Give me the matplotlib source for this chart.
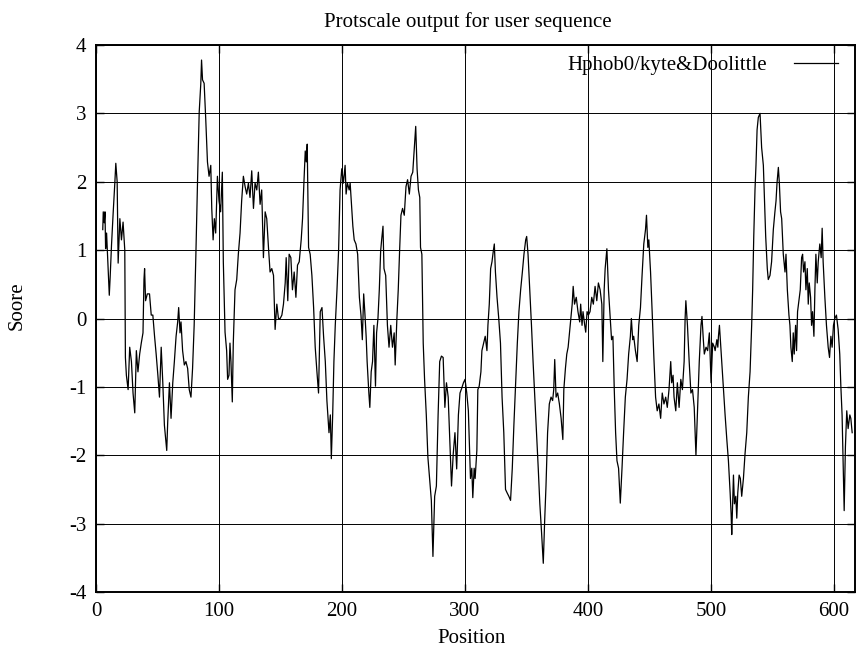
import matplotlib
matplotlib.use("Agg")
import matplotlib.pyplot as plt

plt.rcParams['font.family'] = ['Liberation Serif', 'DejaVu Serif']
plt.rcParams['axes.unicode_minus'] = False

# hydrophobicity profile (position, score)
position = [
    5.5, 5.9, 6.7, 7.3, 7.8, 8.6, 10.0, 10.8, 11.5, 12.6, 14.0, 15.3, 16.1, 17.2, 18.0, 19.4,
    20.7, 22.0, 23.4, 23.9, 24.7, 26.1, 27.4, 28.8, 30.1, 31.5, 32.8, 34.1, 35.5, 36.8, 38.2,
    39.0, 39.5, 40.3, 41.7, 43.5, 44.9, 46.2, 47.6, 48.9, 50.3, 51.6, 53.0, 54.3, 55.6, 57.5,
    58.3, 59.7, 61.0, 62.4, 63.7, 65.1, 66.4, 67.2, 68.3, 69.1, 70.4, 71.8, 73.1, 74.5, 75.8,
    77.2, 78.5, 79.8, 81.2, 82.5, 83.9, 85.2, 85.8, 86.6, 87.9, 89.2, 90.6, 91.9, 93.3, 94.1,
    95.2, 96.2, 97.3, 98.7, 100.0, 101.3, 102.7, 103.5, 104.9, 106.2, 107.0, 108.1, 108.9,
    109.7, 110.8, 111.6, 113.0, 114.4, 115.7, 117.1, 118.4, 119.8, 121.2, 122.5, 123.9, 125.2,
    126.6, 128.0, 129.3, 130.7, 132.0, 133.4, 134.7, 136.1, 137.5, 138.8, 140.2, 141.5, 142.9,
    144.3, 145.6, 147.0, 148.3, 149.7, 151.1, 152.4, 153.8, 154.6, 155.9, 157.0, 158.4, 159.7,
    161.1, 162.5, 163.8, 165.2, 166.8, 167.9, 169.0, 170.1, 170.9, 171.7, 172.8, 174.1, 175.5,
    176.9, 178.2, 179.6, 180.9, 182.3, 183.7, 185.0, 186.4, 187.7, 188.5, 189.4, 190.5, 191.3,
    192.4, 193.4, 194.5, 195.9, 197.2,
    198.4, 199.8, 201.1, 202.5, 203.3, 204.4, 205.8, 206.6, 207.5, 208.8, 209.9, 211.3, 212.7,
    214.1, 215.4, 216.5, 217.6, 218.5, 219.6, 220.4, 221.8, 222.6, 223.7, 224.8, 225.9, 227.2,
    228.1, 229.2, 230.3, 231.4, 232.2, 233.3, 234.1, 235.5, 236.9, 238.2, 239.6, 241.0, 242.4,
    243.2, 244.6, 245.7, 246.8, 247.9, 249.2, 250.6, 252.0, 253.3, 254.7, 256.1, 257.5, 258.8,
    259.9, 261.0, 262.1, 263.2, 263.8, 264.9, 266.0, 267.1, 268.5, 269.8, 271.2, 272.6, 273.9,
    275.3, 276.7, 278.1, 279.4, 280.8, 282.2, 283.6, 284.9, 286.3, 287.7, 289.0, 290.4, 291.8,
    293.2, 294.6, 295.9, 297.3, 298.7,
    300.0, 301.4, 302.7, 303.6, 304.4, 305.5, 306.3, 307.4, 308.2, 309.6, 310.4, 311.5, 312.9,
    313.7, 315.1, 316.4, 317.8, 318.6, 319.7, 320.8, 321.9, 323.0, 323.8, 324.7, 326.0, 327.4,
    328.8, 330.1, 331.5, 332.9, 334.2, 335.6, 337.0, 338.4, 339.7, 341.1, 342.5, 343.8, 345.2,
    346.6, 347.9, 349.3, 350.1, 351.2, 352.6, 354.0, 355.3, 356.7, 358.1, 359.5, 360.8, 362.2,
    363.6, 364.7, 365.8, 367.1, 368.5, 369.9, 371.2, 372.1, 372.9, 374.0, 375.3, 376.7, 378.1,
    379.5, 380.3, 381.6, 382.7, 383.8, 384.9, 386.3, 387.1, 387.9, 389.0, 390.4, 391.8, 393.2,
    394.0, 395.1, 395.9, 397.3, 398.1, 399.2, 400.3,
    401.6, 403.0, 404.3, 405.7, 407.1, 408.4, 409.8, 411.2, 412.0, 413.1, 413.9, 415.3, 416.6,
    418.0, 419.1, 420.2, 421.3, 422.4, 423.5, 424.8, 426.2, 427.6, 428.9, 430.3, 431.7, 433.0,
    434.4, 435.2, 436.3, 437.1, 438.5, 439.9, 441.2, 442.6, 443.9, 445.3, 446.7, 447.5, 448.6,
    449.4, 450.8, 452.1, 453.5, 454.9, 456.2, 457.6, 459.0, 460.3, 461.7, 463.1, 464.4, 465.8,
    467.2, 468.0, 469.1, 469.9, 471.3, 472.6, 474.0, 475.4, 476.7, 478.1, 478.9, 479.5, 480.8,
    482.2, 483.6, 484.9, 486.3, 487.7, 489.0, 490.4, 491.8, 492.6, 493.7, 494.5, 495.9, 497.2,
    498.6, 500.0, 501.3, 502.7,
    503.3, 504.7, 505.5, 506.0, 506.8, 507.9, 508.7, 510.1, 511.4, 512.8, 514.1, 515.5, 516.3,
    516.8, 518.2, 519.0, 520.1, 520.9, 521.7, 522.8, 523.8, 524.9, 526.3, 527.6, 529.0, 530.3,
    531.7, 533.0, 533.8, 534.7, 535.7, 536.5, 537.4, 538.4, 539.8, 541.1, 542.5, 543.3, 544.4,
    545.7, 546.5, 547.9, 549.2, 550.6, 551.9, 552.8, 553.6, 554.7, 555.5, 556.5, 557.4, 558.7,
    560.1, 560.9, 562.0, 563.3, 564.1, 564.9, 566.0, 566.8, 567.6, 568.7, 569.5, 570.3, 571.4,
    572.5, 573.6, 574.4, 575.2, 576.3, 577.1, 578.2, 579.0, 579.8, 580.9, 581.7, 582.5, 583.6,
    584.4, 585.2, 586.3, 587.1, 588.4, 589.5, 590.3, 591.1, 592.5, 593.8, 595.2, 596.3, 597.4,
    598.4, 599.5, 600.6, 601.9, 603.3, 604.6, 605.5, 606.5, 607.4, 608.2, 609.2, 610.3, 611.4,
    612.8, 613.6, 614.7,
]
score = [
    1.30, 1.56, 1.40, 1.56, 1.02, 1.25, 0.68, 0.34, 0.60, 1.07, 1.56, 1.98, 2.27, 2.00, 0.81, 1.46,
    1.15, 1.41, 1.00, -0.57, -0.83, -1.04, -0.42, -0.63, -1.09, -1.38, -0.47, -0.78, -0.52, -0.36, -0.21,
    0.57, 0.73, 0.26, 0.36, 0.36, 0.05, 0.05, -0.26, -0.52, -0.83, -1.15, -0.42, -0.94, -1.56, -1.93,
    -1.51, -0.94, -1.46, -0.94, -0.63, -0.26, -0.05, 0.16, -0.21, -0.05, -0.47, -0.68, -0.63, -0.73, -1.04,
    -1.15, -0.73, -0.10, 0.94, 1.98, 3.02, 3.44, 3.78, 3.49, 3.44, 2.92, 2.29, 2.08, 2.24, 1.61,
    1.15, 1.46, 1.25, 2.08, 1.72, 1.56, 2.14, 0.83, -0.20, -0.47, -0.89, -0.83, -0.36,
    -0.63, -1.22, -0.36, 0.42, 0.57, 0.94, 1.25, 1.72, 2.08, 1.93, 1.82, 1.98, 1.77,
    2.16, 1.61, 1.98, 1.88, 2.14, 1.67, 1.88, 0.89, 1.56, 1.46, 1.04, 0.68, 0.73,
    0.63, -0.16, 0.21, 0.00, 0.00, 0.05, 0.21, 0.52, 0.89, 0.26, 0.94, 0.89, 0.42,
    0.68, 0.31, 0.78, 0.83, 1.15, 1.46, 1.98, 2.45, 2.29, 2.55, 1.04, 0.94, 0.63,
    0.16, -0.42, -0.78, -1.09, 0.10, 0.16, -0.26, -0.63, -1.20, -1.41, -1.67, -1.41, -2.05,
    -1.41, -0.63, -0.10, 0.42, 0.99,
    1.88, 2.19, 1.98, 2.24, 1.82, 1.98, 1.88, 1.98, 1.72, 1.35, 1.15, 1.09, 0.94,
    0.31, 0.05, -0.31, 0.36, 0.10, -0.26, -0.63, -1.09, -1.30, -0.78, -0.63, -0.10, -0.99,
    -0.21, 0.00, 0.42, 0.99, 1.15, 1.35, 0.73, 0.63, -0.10, -0.42, -0.10, -0.42, -0.21,
    -0.68, 0.00, 0.42, 0.99, 1.51, 1.61, 1.51, 1.93, 2.03, 1.82, 2.08, 2.14, 2.50,
    2.81, 2.19, 1.88, 1.77, 1.04, 0.94, -0.36, -0.89, -1.41, -2.03, -2.34, -2.66, -3.48,
    -2.60, -2.45, -1.41, -0.63, -0.55, -0.57, -1.30, -0.94, -1.15, -1.82, -2.45, -1.98, -1.67,
    -2.20, -1.41, -1.09, -1.02, -0.94,
    -0.89, -1.09, -1.35, -1.88, -2.34, -2.19, -2.62, -2.19, -2.34, -1.93, -1.04, -0.99, -0.78,
    -0.47, -0.36, -0.26, -0.47, -0.10, 0.21, 0.73, 0.83, 0.99, 1.09, 0.68, 0.31, 0.00,
    -0.36, -1.15, -1.67, -2.50, -2.55, -2.60, -2.66, -2.19, -1.56, -0.94, -0.36, 0.10, 0.42,
    0.68, 0.94, 1.15, 1.20, 0.94, 0.42, -0.10, -0.63, -1.15, -1.67, -2.19, -2.71, -3.13,
    -3.58, -2.97, -2.45, -1.67, -1.25, -1.15, -1.20, -1.04, -0.60, -1.15, -1.09, -1.25, -1.46,
    -1.77, -1.04, -0.73, -0.52, -0.42, -0.21, 0.05, 0.21, 0.47, 0.21, 0.31, 0.10, -0.05,
    0.21, -0.10, 0.10, -0.10, -0.20, 0.10, 0.05,
    0.10, 0.31, 0.21, 0.47, 0.26, 0.52, 0.42, 0.21, -0.63, 0.42, 0.73, 1.02, 0.42,
    0.00, -0.31, -0.26, -1.04, -1.67, -2.08, -2.19, -2.70, -2.19, -1.67, -1.15, -0.89, -0.52,
    -0.26, 0.00, -0.31, -0.26, -0.47, -0.63, -0.10, 0.16, 0.63, 1.09, 1.30, 1.51, 1.04,
    1.15, 0.68, 0.10, -0.57, -1.15, -1.35, -1.25, -1.46, -1.09, -1.25, -1.15, -1.30, -1.04,
    -0.63, -0.94, -0.83, -1.15, -1.35, -0.94, -1.30, -0.89, -1.04, -0.63, 0.00, 0.26, -0.10,
    -0.63, -1.09, -1.04, -1.30, -2.00, -1.35, -0.63, -0.10, 0.03, -0.31, -0.52, -0.42, -0.47,
    -0.21, -0.94, -0.36, -0.42,
    -0.47, -0.31, -0.42, -0.26, -0.10, -0.42, -0.63, -1.04, -1.41, -1.77, -2.08, -2.55, -2.86,
    -3.16, -2.29, -2.71, -2.60, -2.92, -2.55, -2.29, -2.34, -2.60, -2.34, -1.98, -1.67, -1.15,
    -0.78, -0.10, 0.42, 1.20, 1.88, 2.24, 2.76, 2.94, 3.00, 2.50, 2.24, 1.82, 1.20,
    0.73, 0.57, 0.63, 0.83, 1.30, 1.56, 1.72, 1.98, 2.21, 1.98, 1.56, 1.46, 0.94,
    0.68, 0.94, 0.42, 0.05, -0.10, -0.42, -0.63, -0.21, -0.52, -0.10, -0.47, 0.10, 0.26,
    0.42, 0.89, 0.94, 0.68, 0.83, 0.42, 0.73, 0.21, 0.52, 0.31, -0.10, 0.10, -0.26,
    0.42, 0.94, 0.52, 0.83, 1.09, 0.89, 1.32, 0.83, 0.31, -0.10, -0.42, -0.57, -0.26,
    -0.42, -0.10, 0.00, 0.05, -0.16, -0.52, -0.99, -1.41, -2.13, -2.81, -1.88, -1.35, -1.61,
    -1.41, -1.46, -1.67,
]

x_ticks = [0, 100, 200, 300, 400, 500, 600]
y_ticks = [-4, -3, -2, -1, 0, 1, 2, 3, 4]

W, H = 856, 650
fig = plt.figure(figsize=(W / 100, H / 100), dpi=100)
ax = fig.add_axes([96 / W, 58 / H, 759 / W, 547 / H])

ax.plot(position, score, color='black', linewidth=0.9, label='Hphob0/kyte&Doolittle')

ax.set_xlim(0, 617)
ax.set_ylim(-4, 4)
ax.set_xticks(x_ticks)
ax.set_yticks(y_ticks)
ax.grid(True, color='black', linewidth=0.7)
ax.tick_params(direction='in', length=6, width=1, top=True, right=True,
               labelsize=15, pad=7)
for s in ax.spines.values():
    s.set_linewidth(1.4)

# gnuplot-like text placement
fig.text(468 / W, 1 - 27 / H, 'Protscale output for user sequence',
         ha='center', va='baseline', fontsize=15)
fig.text(472 / W, 1 - 643 / H, 'Position', ha='center', va='baseline', fontsize=15)
fig.text(17 / W, 1 - 306 / H, 'Soore', ha='center', va='center', rotation=90, fontsize=15)

ax.legend(loc='upper right', frameon=False, fontsize=15, markerfirst=False,
          handlelength=2.1, handletextpad=1.3, borderaxespad=0.1,
          bbox_to_anchor=(0.991, 1.0))

fig.savefig('out.png', dpi=100)
